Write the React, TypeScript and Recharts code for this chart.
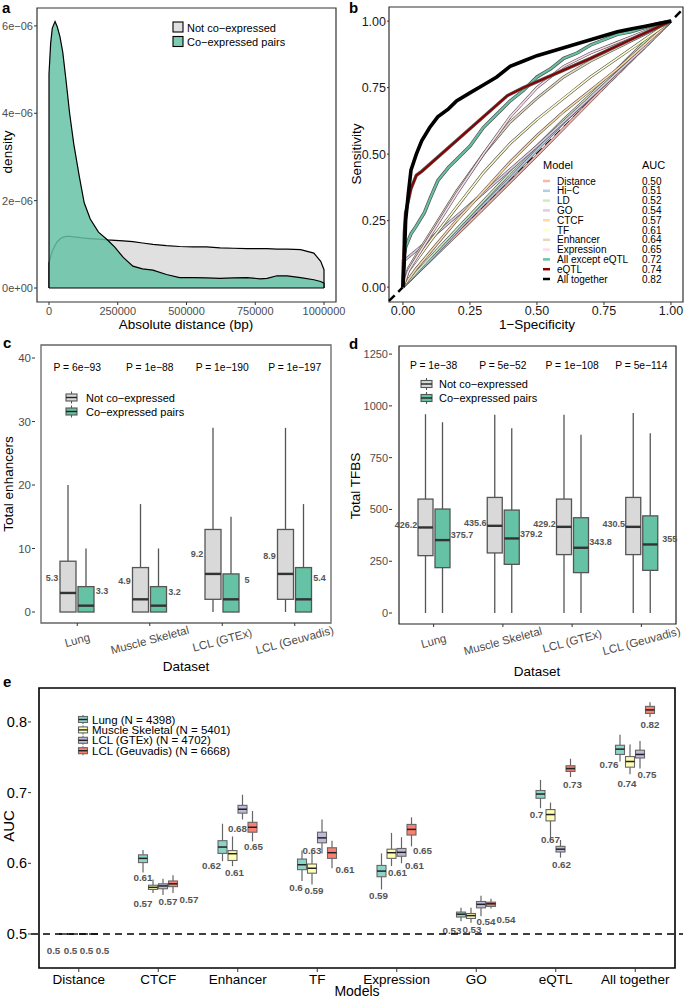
import React from 'react';
import {
  AreaChart, Area, LineChart, Line, ComposedChart, Bar,
  XAxis, YAxis, ReferenceArea, ReferenceLine, ReferenceDot,
} from 'recharts';

const FONT = '"Liberation Sans", Arial, Helvetica, sans-serif';

/* ---------------- panel a : density ---------------- */
const aDistance = [0, 6000, 12000, 22000, 30000, 40000, 50000, 62000, 75000, 90000, 110000, 128000, 150000, 180000, 213000, 240000, 270000, 305000, 340000, 378000, 427000, 475000, 524000, 573000, 622000, 671000, 720000, 768000, 793000, 829000, 866000, 915000, 963000, 988000, 1000000];
// density in units of 1e-6
const aNotCoexpressed = [0.57, 0.72, 0.85, 0.98, 1.06, 1.12, 1.16, 1.18, 1.18, 1.17, 1.16, 1.14, 1.13, 1.12, 1.1, 1.09, 1.08, 1.06, 1.03, 1.0, 0.97, 0.95, 0.94, 0.94, 0.92, 0.91, 0.9, 0.9, 0.9, 0.89, 0.89, 0.88, 0.8, 0.61, 0.42];
const aCoexpressed = [4.9, 5.6, 5.95, 6.1, 5.98, 5.75, 5.4, 4.75, 4.0, 3.3, 2.56, 1.95, 1.58, 1.28, 1.1, 0.93, 0.7, 0.5, 0.44, 0.41, 0.31, 0.24, 0.24, 0.23, 0.22, 0.23, 0.24, 0.21, 0.22, 0.28, 0.28, 0.24, 0.19, 0.15, 0.11];
const aXTicks = [0, 250000, 500000, 750000, 1000000];
const aYTicks = [0, 2, 4, 6];
const aYTickLabels = ['0e+00', '2e−06', '4e−06', '6e−06'];

const aData = [
  { x: aDistance[0], notCo: 0, co: 0 },
  ...aDistance.map((x, i) => ({ x, notCo: aNotCoexpressed[i], co: aCoexpressed[i] })),
  { x: aDistance[aDistance.length - 1], notCo: 0, co: 0 },
];

/* ---------------- panel b : ROC ---------------- */
const rocModels = ['Distance', 'Hi−C', 'LD', 'GO', 'CTCF', 'TF', 'Enhancer', 'Expression', 'All except eQTL', 'eQTL', 'All together'];
const rocAuc = ['0.50', '0.51', '0.52', '0.54', '0.57', '0.61', '0.64', '0.65', '0.72', '0.74', '0.82'];
const rocDistance = [[0, 0], [0.25, 0.245], [0.5, 0.495], [0.75, 0.75], [1, 1]];
const rocHiC = [[0, 0], [0.1, 0.1], [0.25, 0.26], [0.4, 0.41], [0.5, 0.515], [0.6, 0.62], [0.75, 0.76], [0.9, 0.91], [1, 1]];
const rocLD = [[0, 0], [0.1, 0.11], [0.25, 0.27], [0.4, 0.43], [0.5, 0.53], [0.6, 0.63], [0.75, 0.77], [0.9, 0.92], [1, 1]];
const rocGO = [[0, 0], [0.005, 0.1], [0.1, 0.18], [0.25, 0.31], [0.5, 0.53], [0.75, 0.76], [0.9, 0.9], [1, 1]];
const rocCTCF = [[0, 0], [0.05, 0.07], [0.1, 0.13], [0.2, 0.25], [0.3, 0.36], [0.4, 0.47], [0.5, 0.57], [0.6, 0.66], [0.7, 0.74], [0.8, 0.82], [0.9, 0.91], [1, 1]];
const rocTF = [[0, 0], [0.02, 0.06], [0.05, 0.1], [0.1, 0.17], [0.2, 0.3], [0.3, 0.43], [0.4, 0.54], [0.5, 0.63], [0.6, 0.71], [0.7, 0.79], [0.8, 0.86], [0.9, 0.93], [1, 1]];
const rocEnhancer = [[0, 0], [0.02, 0.07], [0.05, 0.12], [0.1, 0.2], [0.2, 0.36], [0.3, 0.5], [0.4, 0.62], [0.5, 0.71], [0.6, 0.79], [0.7, 0.85], [0.8, 0.9], [0.9, 0.95], [1, 1]];
const rocExpression = [[0, 0], [0.02, 0.06], [0.05, 0.11], [0.1, 0.19], [0.2, 0.35], [0.3, 0.5], [0.4, 0.64], [0.5, 0.75], [0.6, 0.83], [0.7, 0.88], [0.8, 0.92], [0.9, 0.96], [1, 1]];
const rocAllExceptEqtl = [[0, 0], [0.002, 0.1], [0.01, 0.15], [0.03, 0.2], [0.05, 0.23], [0.08, 0.28], [0.1, 0.33], [0.13, 0.4], [0.17, 0.45], [0.2, 0.48], [0.25, 0.53], [0.3, 0.6], [0.35, 0.65], [0.4, 0.7], [0.45, 0.74], [0.5, 0.79], [0.55, 0.82], [0.6, 0.86], [0.65, 0.88], [0.7, 0.91], [0.75, 0.93], [0.8, 0.95], [0.85, 0.96], [0.9, 0.975], [0.95, 0.99], [1, 1]];
const rocEqtl = [[0, 0], [0.005, 0.2], [0.01, 0.28], [0.03, 0.37], [0.05, 0.42], [0.07, 0.435], [0.39, 0.72], [0.45, 0.75], [0.7, 0.86], [0.87, 0.94], [1, 1]];
const rocAllTogether = [[0, 0], [0.005, 0.1], [0.01, 0.25], [0.02, 0.35], [0.03, 0.44], [0.05, 0.5], [0.07, 0.55], [0.1, 0.6], [0.13, 0.64], [0.17, 0.67], [0.2, 0.7], [0.25, 0.73], [0.3, 0.76], [0.35, 0.79], [0.4, 0.83], [0.45, 0.85], [0.5, 0.87], [0.55, 0.885], [0.6, 0.9], [0.65, 0.915], [0.7, 0.93], [0.75, 0.945], [0.8, 0.96], [0.85, 0.97], [0.9, 0.98], [0.95, 0.99], [1, 1]];
const rocCurves = [rocDistance, rocHiC, rocLD, rocGO, rocCTCF, rocTF, rocEnhancer, rocExpression, rocAllExceptEqtl, rocEqtl, rocAllTogether];
const rocColors = ['#FBB4AE', '#B3CDE3', '#CCEBC5', '#DECBE4', '#FED9A6', '#FFFFCC', '#E5D8BD', '#FDDAEC', '#66C2A5', '#8B0000', '#000000'];

/* ---------------- panel c / d : boxplots ---------------- */
const datasets = ['Lung', 'Muscle Skeletal', 'LCL (GTEx)', 'LCL (Geuvadis)'];

const cPvalues = ['P =  6e−93', 'P =  1e−88', 'P = 1e−190', 'P = 1e−197'];
const cNotLo = [0, 0, 0, 0];
const cNotQ1 = [0, 0, 2, 2];
const cNotMed = [3, 2, 6, 6];
const cNotQ3 = [8, 7, 13, 13];
const cNotHi = [20, 17, 29, 29];
const cNotMean = [5.3, 4.9, 9.2, 8.9];
const cCoLo = [0, 0, 0, 0];
const cCoQ1 = [0, 0, 0, 0];
const cCoMed = [1, 1, 2, 2];
const cCoQ3 = [4, 4, 6, 7];
const cCoHi = [10, 10, 15, 17];
const cCoMean = [3.3, 3.2, 5, 5.4];

const dPvalues = ['P =  1e−38', 'P =  5e−52', 'P = 1e−108', 'P = 5e−114'];
const dNotLo = [0, 0, 0, 0];
const dNotQ1 = [277, 290, 282, 282];
const dNotMed = [413, 421, 416, 416];
const dNotQ3 = [550, 558, 550, 558];
const dNotHi = [960, 957, 957, 965];
const dNotMean = [426.2, 435.6, 429.2, 430.5];
const dCoLo = [0, 0, 0, 0];
const dCoQ1 = [219, 235, 195, 206];
const dCoMed = [352, 360, 315, 331];
const dCoQ3 = [502, 497, 460, 469];
const dCoHi = [921, 892, 860, 868];
const dCoMean = [375.7, 379.2, 343.8, 355];

const mk = (lo: number[], q1: number[], med: number[], q3: number[], hi: number[], mean: number[], i: number) =>
  ({ lo: lo[i], q1: q1[i], med: med[i], q3: q3[i], hi: hi[i], mean: mean[i] });

const cData = datasets.map((name, i) => ({
  name,
  nc: mk(cNotLo, cNotQ1, cNotMed, cNotQ3, cNotHi, cNotMean, i),
  co: mk(cCoLo, cCoQ1, cCoMed, cCoQ3, cCoHi, cCoMean, i),
}));
const dData = datasets.map((name, i) => ({
  name,
  nc: mk(dNotLo, dNotQ1, dNotMed, dNotQ3, dNotHi, dNotMean, i),
  co: mk(dCoLo, dCoQ1, dCoMed, dCoQ3, dCoHi, dCoMean, i),
}));

/* ---------------- panel e : AUC boxplots ---------------- */
const eModels = ['Distance', 'CTCF', 'Enhancer', 'TF', 'Expression', 'GO', 'eQTL', 'All together'];
const eSeriesNames = ['Lung (N = 4398)', 'Muscle Skeletal (N = 5401)', 'LCL (GTEx) (N = 4702)', 'LCL (Geuvadis) (N = 6668)'];

const eLungLo = [0.4999, 0.587, 0.603, 0.575, 0.563, 0.518, 0.678, 0.744];
const eLungQ1 = [0.5, 0.601, 0.614, 0.591, 0.581, 0.524, 0.692, 0.754];
const eLungMed = [0.5, 0.607, 0.623, 0.598, 0.589, 0.528, 0.698, 0.7615];
const eLungQ3 = [0.5, 0.612, 0.632, 0.606, 0.597, 0.531, 0.703, 0.767];
const eLungHi = [0.5001, 0.619, 0.656, 0.618, 0.614, 0.537, 0.718, 0.782];
const eLungLabel = ['0.5', '0.61', '0.62', '0.6', '0.59', '0.53', '0.7', '0.76'];

const eMuscleLo = [0.4999, 0.558, 0.596, 0.570, 0.596, 0.516, 0.633, 0.726];
const eMuscleQ1 = [0.5, 0.563, 0.604, 0.586, 0.607, 0.522, 0.660, 0.736];
const eMuscleMed = [0.5, 0.566, 0.6136, 0.593, 0.615, 0.526, 0.669, 0.744];
const eMuscleQ3 = [0.5, 0.569, 0.618, 0.599, 0.620, 0.529, 0.676, 0.751];
const eMuscleHi = [0.5001, 0.577, 0.638, 0.615, 0.643, 0.537, 0.686, 0.768];
const eMuscleLabel = ['0.5', '0.57', '0.61', '0.59', '0.61', '0.53', '0.67', '0.74'];

const eGtexLo = [0.4999, 0.555, 0.662, 0.614, 0.600, 0.525, 0.608, 0.734];
const eGtexQ1 = [0.5, 0.564, 0.671, 0.629, 0.610, 0.537, 0.616, 0.749];
const eGtexMed = [0.5, 0.568, 0.6765, 0.636, 0.6155, 0.542, 0.620, 0.754];
const eGtexQ3 = [0.5, 0.571, 0.682, 0.644, 0.621, 0.546, 0.624, 0.760];
const eGtexHi = [0.5001, 0.578, 0.697, 0.662, 0.637, 0.554, 0.633, 0.773];
const eGtexLabel = ['0.5', '0.57', '0.68', '0.63', '0.61', '0.54', '0.62', '0.75'];

const eGeuvLo = [0.4999, 0.558, 0.631, 0.593, 0.624, 0.536, 0.722, 0.807];
const eGeuvQ1 = [0.5, 0.567, 0.644, 0.607, 0.640, 0.539, 0.730, 0.812];
const eGeuvMed = [0.5, 0.571, 0.651, 0.615, 0.648, 0.5427, 0.734, 0.817];
const eGeuvQ3 = [0.5, 0.575, 0.658, 0.622, 0.655, 0.545, 0.738, 0.822];
const eGeuvHi = [0.5001, 0.583, 0.674, 0.632, 0.665, 0.550, 0.748, 0.828];
const eGeuvLabel = ['0.5', '0.57', '0.65', '0.61', '0.65', '0.54', '0.73', '0.82'];

// label placement (pixel offsets from box centre / median) -- style only
const eLabelOffsets = [
  [[-10, 17], [0, 19], [-11, 18], [-6, 23], [-3, 24], [-9, 16], [-4, 20], [-11, 15]],
  [[-3, 17], [-10, 16], [2, 19], [2, 22], [6, 20], [1, 14], [0, 25], [-3, 22]],
  [[3, 17], [5, 16], [-5, 19], [-10, 13], [13, 13], [5, 17], [1, 15], [7, 20]],
  [[9, 17], [16, 16], [1, 19], [13, 17], [11, 21], [15, 16], [2, 16], [0, 15]],
];
const eColors = ['#8DD3C7', '#FFFFB3', '#BEBADA', '#FB8072'];

const eStats = [
  [eLungLo, eLungQ1, eLungMed, eLungQ3, eLungHi, eLungLabel],
  [eMuscleLo, eMuscleQ1, eMuscleMed, eMuscleQ3, eMuscleHi, eMuscleLabel],
  [eGtexLo, eGtexQ1, eGtexMed, eGtexQ3, eGtexHi, eGtexLabel],
  [eGeuvLo, eGeuvQ1, eGeuvMed, eGeuvQ3, eGeuvHi, eGeuvLabel],
] as any[];

const eData = eModels.map((name, i) => ({
  name,
  s: eStats.map((st) => ({ lo: st[0][i], q1: st[1][i], med: st[2][i], q3: st[3][i], hi: st[4][i], label: st[5][i] })),
}));

/* ---------------- shapes ---------------- */
function makeScale(p: any, lo: number, hi: number) {
  const top = Math.min(p.y, p.y + p.height);
  const bot = Math.max(p.y, p.y + p.height);
  const span = hi - lo;
  return (v: number) => (span ? bot - ((v - lo) / span) * (bot - top) : top);
}

function cdBox(key: 'nc' | 'co', fill: string, side: number, gap: number) {
  return (p: any) => {
    const s = p.payload[key];
    const py = makeScale(p, s.lo, s.hi);
    const cx = p.x + p.width / 2;
    const lx = side < 0 ? p.x - gap : p.x + p.width + gap;
    return (
      <g>
        <line x1={cx} x2={cx} y1={py(s.hi)} y2={py(s.q3)} stroke="#555" strokeWidth={1.3} />
        <line x1={cx} x2={cx} y1={py(s.q1)} y2={py(s.lo)} stroke="#555" strokeWidth={1.3} />
        <rect x={p.x} y={py(s.q3)} width={p.width} height={py(s.q1) - py(s.q3)} fill={fill} stroke="#555" strokeWidth={1.3} />
        <line x1={p.x} x2={p.x + p.width} y1={py(s.med)} y2={py(s.med)} stroke="#333" strokeWidth={2.4} />
        <text x={lx} y={py(s.mean)} textAnchor="middle" dominantBaseline="central" fontSize={9} fontWeight="bold" fill="#555">{String(s.mean)}</text>
      </g>
    );
  };
}

function eBox(idx: number) {
  return (p: any) => {
    const s = p.payload.s[idx];
    const py = makeScale(p, s.lo, s.hi);
    const cx = p.x + p.width / 2;
    const off = eLabelOffsets[idx][p.index] || [0, 16];
    return (
      <g>
        <line x1={cx} x2={cx} y1={py(s.hi)} y2={py(s.q3)} stroke="#666" strokeWidth={1.2} />
        <line x1={cx} x2={cx} y1={py(s.q1)} y2={py(s.lo)} stroke="#666" strokeWidth={1.2} />
        <rect x={p.x} y={py(s.q3)} width={p.width} height={Math.max(0, py(s.q1) - py(s.q3))} fill={eColors[idx]} stroke="#666" strokeWidth={1.1} />
        <line x1={p.x} x2={p.x + p.width} y1={py(s.med)} y2={py(s.med)} stroke="#222" strokeWidth={1.5} />
        <text x={cx + off[0]} y={py(s.med) + off[1]} textAnchor="middle" dominantBaseline="central" fontSize={9.8} fontWeight="bold" fill="#555">{s.label}</text>
      </g>
    );
  };
}

const RotTick = (props: any) => {
  const { x, y, payload } = props;
  const ty = y + 12;
  return (
    <text x={x} y={ty} textAnchor="middle" dominantBaseline="central" fontSize={11.5} fill="#4d4d4d" transform={`rotate(-15 ${x} ${ty})`}>
      {payload.value}
    </text>
  );
};

const greyTick = { fontSize: 11, fill: '#4d4d4d' };
const blackTick = { fontSize: 12.5, fill: '#1a1a1a' };

/* ---------------- panels ---------------- */
function PanelA() {
  return (
    <AreaChart width={352} height={320} data={aData} margin={{ top: 8, right: 16, left: 0, bottom: 0 }}>
      <XAxis type="number" dataKey="x" domain={[-43636, 1043636]} allowDataOverflow ticks={aXTicks} interval={0}
        tickFormatter={(v: number) => String(v)} height={18} tickSize={3} tickMargin={2} axisLine={false}
        tick={greyTick} tickLine={{ stroke: '#333' }} />
      <YAxis type="number" domain={[-0.32, 6.41]} allowDataOverflow ticks={aYTicks} interval={0}
        tickFormatter={(v: number) => aYTickLabels[aYTicks.indexOf(v)]} width={37} tickSize={3} tickMargin={1}
        axisLine={false} tick={greyTick} tickLine={{ stroke: '#333' }} />
      <Area type="linear" dataKey="notCo" stroke="#000" strokeWidth={1.2} fill="#e0e0e0" fillOpacity={1} isAnimationActive={false} />
      <Area type="linear" dataKey="co" stroke="#000" strokeWidth={1.2} fill="#66c2a5" fillOpacity={0.85} isAnimationActive={false} />
      <ReferenceLine segment={[{ x: 0, y: 0 }, { x: 1000000, y: 0 }]} stroke="#000" strokeWidth={1.2} />
      <ReferenceArea y1={-0.32} y2={6.41} fill="none" stroke="#333" strokeWidth={1.2} ifOverflow="visible" />
    </AreaChart>
  );
}

function PanelB() {
  return (
    <LineChart width={344} height={320} margin={{ top: 7, right: 1, left: 0, bottom: 0 }}>
      <XAxis type="number" dataKey="x" domain={[-0.052, 1.045]} allowDataOverflow ticks={[0, 0.25, 0.5, 0.75, 1]} interval={0}
        tickFormatter={(v: number) => v.toFixed(2)} height={18} tickSize={3} tickMargin={1} axisLine={false}
        tick={blackTick} tickLine={{ stroke: '#333' }} />
      <YAxis type="number" domain={[-0.056, 1.053]} allowDataOverflow ticks={[0, 0.25, 0.5, 0.75, 1]} interval={0}
        tickFormatter={(v: number) => v.toFixed(2)} width={49} tickSize={2} tickMargin={1} axisLine={false}
        tick={blackTick} tickLine={{ stroke: '#333' }} />
      <ReferenceLine segment={[{ x: -0.052, y: -0.052 }, { x: 1.045, y: 1.045 }]} stroke="#000" strokeWidth={2.5} strokeDasharray="8 5" />
      {rocCurves.map((c, i) => {
        const data = c.map(([x, y]) => ({ x, y }));
        if (i === rocCurves.length - 1) {
          return <Line key={'l' + i} data={data} dataKey="y" type="linear" stroke={rocColors[i]} strokeWidth={3.6} dot={false} isAnimationActive={false} />;
        }
        return [
          <Line key={'o' + i} data={data} dataKey="y" type="linear" stroke="#555" strokeWidth={i >= 8 ? 3.4 : 2.8} dot={false} isAnimationActive={false} />,
          <Line key={'l' + i} data={data} dataKey="y" type="linear" stroke={rocColors[i]} strokeWidth={i >= 8 ? 2 : 1.6} dot={false} isAnimationActive={false} />,
        ];
      })}
      <ReferenceArea y1={-0.056} y2={1.053} fill="none" stroke="#333" strokeWidth={1.2} ifOverflow="visible" />
    </LineChart>
  );
}

function PanelC() {
  return (
    <ComposedChart width={352} height={334} data={cData} margin={{ top: 15, right: 15, left: 0, bottom: 0 }} barGap={2}>
      <XAxis dataKey="name" type="category" padding={{ left: 6, right: 6 }} height={41} interval={0} tick={<RotTick />}
        tickSize={3} tickMargin={2} axisLine={false} tickLine={{ stroke: '#333' }} />
      <YAxis type="number" domain={[-1.73, 42.05]} allowDataOverflow ticks={[0, 10, 20, 30, 40]} interval={0} width={35}
        tickSize={3} tickMargin={1} axisLine={false} tick={{ fontSize: 11.5, fill: '#4d4d4d' }} tickLine={{ stroke: '#333' }} />
      <Bar dataKey={(d: any) => [d.nc.lo, d.nc.hi]} barSize={16} shape={cdBox('nc', '#d9d9d9', -1, 8)} isAnimationActive={false} />
      <Bar dataKey={(d: any) => [d.co.lo, d.co.hi]} barSize={16} shape={cdBox('co', '#66c2a5', 1, 8)} isAnimationActive={false} />
      {cPvalues.map((p, i) => (
        <ReferenceDot key={i} x={datasets[i]} y={38.6} r={0} fill="none" stroke="none" ifOverflow="visible"
          label={{ value: p, position: 'center', fontSize: 10.3, fill: '#000' }} />
      ))}
      <ReferenceArea y1={-1.73} y2={42.05} fill="none" stroke="#666" strokeWidth={1.3} ifOverflow="visible" />
    </ComposedChart>
  );
}

function PanelD() {
  return (
    <ComposedChart width={344} height={334} data={dData} margin={{ top: 16, right: 1, left: 0, bottom: 0 }} barGap={2}>
      <XAxis dataKey="name" type="category" padding={{ left: 7, right: 7 }} height={40} interval={0} tick={<RotTick />}
        tickSize={3} tickMargin={2} axisLine={false} tickLine={{ stroke: '#333' }} />
      <YAxis type="number" domain={[-53, 1289]} allowDataOverflow ticks={[0, 250, 500, 750, 1000, 1250]} interval={0} width={52}
        tickSize={3} tickMargin={1} axisLine={false} tick={{ fontSize: 11, fill: '#4d4d4d' }} tickLine={{ stroke: '#333' }} />
      <Bar dataKey={(d: any) => [d.nc.lo, d.nc.hi]} barSize={15} shape={cdBox('nc', '#d9d9d9', -1, 12)} isAnimationActive={false} />
      <Bar dataKey={(d: any) => [d.co.lo, d.co.hi]} barSize={15} shape={cdBox('co', '#66c2a5', 1, 12)} isAnimationActive={false} />
      {dPvalues.map((p, i) => (
        <ReferenceDot key={i} x={datasets[i]} y={1197} r={0} fill="none" stroke="none" ifOverflow="visible"
          label={{ value: p, position: 'center', fontSize: 10.3, fill: '#000' }} />
      ))}
      <ReferenceArea y1={-53} y2={1289} fill="none" stroke="#222" strokeWidth={1.2} ifOverflow="visible" />
    </ComposedChart>
  );
}

function PanelE() {
  return (
    <ComposedChart width={684} height={329} data={eData} margin={{ top: 18, right: 1, left: 0, bottom: 0 }} barGap={1}>
      <XAxis dataKey="name" type="category" padding={{ left: 8, right: 8 }} height={31} interval={0}
        tickSize={4} tickMargin={2} axisLine={false} tick={{ fontSize: 13.5, fill: '#000' }} tickLine={{ stroke: '#333' }} />
      <YAxis type="number" domain={[0.4519, 0.848]} allowDataOverflow ticks={[0.5, 0.6, 0.7, 0.8]} interval={0} width={31}
        tickSize={3} tickMargin={1} axisLine={false} tick={{ fontSize: 14.5, fill: '#000' }} tickLine={{ stroke: '#333' }} />
      <ReferenceLine y={0.5} stroke="#000" strokeWidth={1.7} strokeDasharray="7 5" />
      {[0, 1, 2, 3].map((k) => (
        <Bar key={k} dataKey={(d: any) => [d.s[k].lo, d.s[k].hi]} barSize={9} shape={eBox(k)} isAnimationActive={false} />
      ))}
      <ReferenceArea y1={0.4519} y2={0.848} fill="none" stroke="#000" strokeWidth={1.6} ifOverflow="visible" />
    </ComposedChart>
  );
}

/* ---------------- overlay: titles & legends ---------------- */
function BoxGlyph({ cx, cy, w, h, wh, fill, stroke }: any) {
  return (
    <g>
      <line x1={cx} x2={cx} y1={cy - h / 2 - wh} y2={cy + h / 2 + wh} stroke={stroke} strokeWidth={1.1} />
      <rect x={cx - w / 2} y={cy - h / 2} width={w} height={h} fill={fill} stroke={stroke} strokeWidth={1.1} />
      <line x1={cx - w / 2} x2={cx + w / 2} y1={cy} y2={cy} stroke="#222" strokeWidth={1.4} />
    </g>
  );
}

function Overlay() {
  return (
    <svg width={684} height={999} style={{ position: 'absolute', left: 0, top: 0, pointerEvents: 'none' }} fontFamily={FONT}>
      {/* panel letters */}
      <text x={2} y={13} fontSize={15} fontWeight="bold">a</text>
      <text x={349} y={13} fontSize={15} fontWeight="bold">b</text>
      <text x={3} y={348} fontSize={15} fontWeight="bold">c</text>
      <text x={349} y={349} fontSize={15} fontWeight="bold">d</text>
      <text x={3} y={687} fontSize={15} fontWeight="bold">e</text>

      {/* axis titles */}
      <text x={0} y={0} transform="translate(12 152) rotate(-90)" textAnchor="middle" fontSize={13.5}>density</text>
      <text x={186} y={324} textAnchor="middle" dominantBaseline="central" fontSize={13.5}>Absolute distance (bp)</text>
      <text x={0} y={0} transform="translate(361 154) rotate(-90)" textAnchor="middle" fontSize={13.5}>Sensitivity</text>
      <text x={537} y={324} textAnchor="middle" dominantBaseline="central" fontSize={13.5}>1−Specificity</text>
      <text x={0} y={0} transform="translate(13 484) rotate(-90)" textAnchor="middle" fontSize={13.5}>Total enhancers</text>
      <text x={186} y={666} textAnchor="middle" dominantBaseline="central" fontSize={13.5}>Dataset</text>
      <text x={0} y={0} transform="translate(360 486) rotate(-90)" textAnchor="middle" fontSize={13.5}>Total TFBS</text>
      <text x={537} y={671} textAnchor="middle" dominantBaseline="central" fontSize={13.5}>Dataset</text>
      <text x={0} y={0} transform="translate(14 826) rotate(-90)" textAnchor="middle" fontSize={15}>AUC</text>
      <text x={357} y={991} textAnchor="middle" dominantBaseline="central" fontSize={14}>Models</text>

      {/* legend a */}
      <rect x={173} y={22} width={10} height={10} fill="#e0e0e0" stroke="#000" strokeWidth={1.1} />
      <rect x={173} y={36.5} width={10} height={10} fill="#7dcbb2" stroke="#000" strokeWidth={1.1} />
      <text x={187} y={27.5} dominantBaseline="central" fontSize={11}>Not co−expressed</text>
      <text x={187} y={42} dominantBaseline="central" fontSize={11}>Co−expressed pairs</text>

      {/* legend b */}
      <text x={543} y={165} dominantBaseline="central" fontSize={11}>Model</text>
      <text x={642} y={165} dominantBaseline="central" fontSize={11}>AUC</text>
      {rocModels.map((m, i) => {
        const y = 181 + i * 9.8;
        return (
          <g key={m}>
            <line x1={543} x2={550} y1={y} y2={y} stroke={rocColors[i]} strokeWidth={2.5} />
            <text x={557} y={y} dominantBaseline="central" fontSize={10}>{m}</text>
            <text x={642} y={y} dominantBaseline="central" fontSize={10}>{rocAuc[i]}</text>
          </g>
        );
      })}

      {/* legend c */}
      <BoxGlyph cx={71.5} cy={397.5} w={11} h={7} wh={2.5} fill="#d9d9d9" stroke="#555" />
      <BoxGlyph cx={71.5} cy={411.5} w={11} h={7} wh={2.5} fill="#66c2a5" stroke="#555" />
      <text x={86} y={397.5} dominantBaseline="central" fontSize={11}>Not co−expressed</text>
      <text x={86} y={411.5} dominantBaseline="central" fontSize={11}>Co−expressed pairs</text>

      {/* legend d */}
      <BoxGlyph cx={426.5} cy={384} w={11} h={7} wh={2.5} fill="#d9d9d9" stroke="#555" />
      <BoxGlyph cx={426.5} cy={398} w={11} h={7} wh={2.5} fill="#66c2a5" stroke="#555" />
      <text x={439} y={384} dominantBaseline="central" fontSize={11}>Not co−expressed</text>
      <text x={439} y={398} dominantBaseline="central" fontSize={11}>Co−expressed pairs</text>

      {/* legend e */}
      {eSeriesNames.map((n, i) => {
        const y = 719.5 + i * 10.4;
        return (
          <g key={n}>
            <BoxGlyph cx={83} cy={y} w={9} h={6} wh={1.5} fill={eColors[i]} stroke="#666" />
            <text x={92} y={y} dominantBaseline="central" fontSize={11.5}>{n}</text>
          </g>
        );
      })}
    </svg>
  );
}

export default function App() {
  const pos = (left: number, top: number): React.CSSProperties => ({ position: 'absolute', left, top });
  return (
    <div style={{ position: 'absolute', left: 0, top: 0, width: 684, height: 999, background: '#fff', fontFamily: FONT, overflow: 'hidden' }}>
      <style>{'.recharts-surface{overflow:visible}'}</style>
      <div style={pos(0, 0)}><PanelA /></div>
      <div style={pos(340, 0)}><PanelB /></div>
      <div style={pos(0, 330)}><PanelC /></div>
      <div style={pos(340, 330)}><PanelD /></div>
      <div style={pos(0, 670)}><PanelE /></div>
      <Overlay />
    </div>
  );
}
